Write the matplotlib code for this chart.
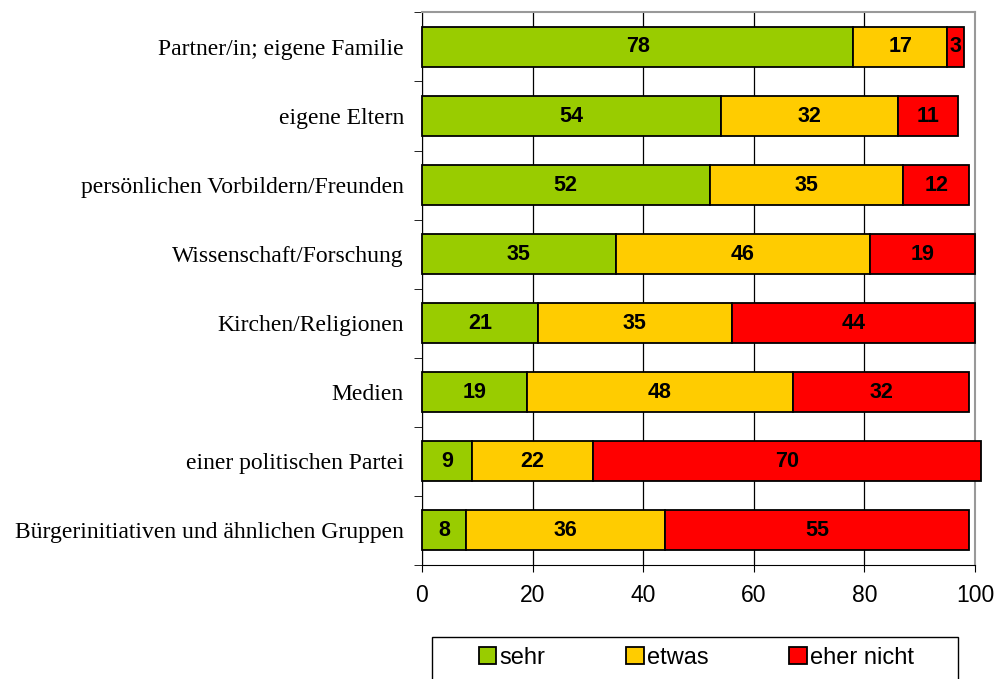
import numpy as np
import matplotlib.pyplot as plt
from matplotlib.patches import Patch, Rectangle

categories = ["Partner/in; eigene Familie", "eigene Eltern",
              "persönlichen Vorbildern/Freunden", "Wissenschaft/Forschung",
              "Kirchen/Religionen", "Medien", "einer politischen Partei",
              "Bürgerinitiativen und ähnlichen Gruppen"]
sehr = [78, 54, 52, 35, 21, 19, 9, 8]
etwas = [17, 32, 35, 46, 35, 48, 22, 36]
eher_nicht = [3, 11, 12, 19, 44, 32, 70, 55]
series_names = ["sehr", "etwas", "eher nicht"]
colors = ["#99CC00", "#FFCC00", "#FF0000"]

fig = plt.figure(figsize=(9.95, 6.79), dpi=100)
ax = fig.add_axes([0.4241, 0.168, 0.5558, 0.8137])

y = np.arange(len(categories))
left = np.zeros(len(categories))
for vals, col in zip([sehr, etwas, eher_nicht], colors):
    bars = ax.barh(y, vals, left=left, height=0.58, color=col,
                   edgecolor="black", linewidth=1.3, zorder=3, clip_on=False)
    for b, v in zip(bars, vals):
        ax.text(b.get_x() + b.get_width() / 2, b.get_y() + b.get_height() / 2,
                str(v), ha="center", va="center", fontsize=15.5,
                fontweight="bold", family="Liberation Sans", zorder=4)
    left += np.array(vals)

ax.set_xlim(0, 100)
ax.set_ylim(len(categories) - 0.5, -0.5)
ax.set_xticks(range(0, 101, 20))
ax.tick_params(axis="x", labelsize=16.5, direction="out", length=5, pad=9)
for lab in ax.get_xticklabels():
    lab.set_family("Liberation Sans")
ax.xaxis.grid(True, color="black", linewidth=0.9, zorder=0)
ax.set_axisbelow(True)

ax.set_yticks(y)
ax.set_yticklabels(categories, family="Liberation Serif", fontsize=17)
ax.set_yticks(np.arange(-0.5, len(categories), 1), minor=True)
ax.tick_params(axis="y", which="major", length=0, pad=13)
ax.tick_params(axis="y", which="minor", length=6, direction="out")

ax.spines["left"].set_color("black")
ax.spines["bottom"].set_color("black")
ax.spines["top"].set_color("#999999")
ax.spines["right"].set_color("#999999")
ax.spines["top"].set_linewidth(1.5)
ax.spines["right"].set_linewidth(1.5)

# legend frame, runs off the bottom edge like the original
frame = Rectangle((432 / 995, -0.02), (958 - 432) / 995, 0.02 + 1 - 637 / 679,
                  transform=fig.transFigure, facecolor="white",
                  edgecolor="black", linewidth=1.0)
fig.patches.append(frame)

handles = [Patch(facecolor=c, edgecolor="black", linewidth=1.3) for c in colors]
leg = fig.legend(handles, series_names, loc="center",
                 bbox_to_anchor=(0.70, 1 - 658 / 679),
                 ncol=3, frameon=False,
                 prop={"family": "Liberation Sans", "size": 17},
                 handlelength=0.75, handleheight=0.75, handletextpad=0.15,
                 columnspacing=3.4, borderaxespad=0)

fig.savefig("out.png", dpi=100)
